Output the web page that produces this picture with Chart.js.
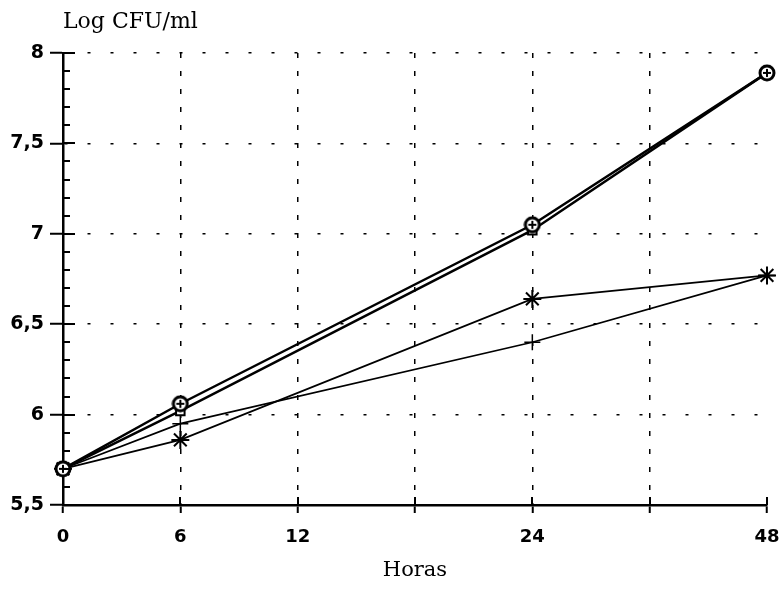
<!DOCTYPE html>
<html>
<head>
<meta charset="utf-8">
<script src="https://cdn.jsdelivr.net/npm/chart.js@4/dist/chart.umd.min.js"></script>
<style>
  html, body { margin: 0; padding: 0; background: #fff; }
  #wrap { width: 781px; height: 589px; position: relative; }
</style>
</head>
<body>
<div id="wrap"><canvas id="chart"></canvas></div>
<script>
// x positions of the original plot (evenly spaced slots, two of them unlabeled)
const hourLabels = ['0', '6', '12', '', '24', '', '48'];
const sampleHours = ['0', '6', '24', '48'];

// Log CFU/ml
const circleSeries = [5.70, 6.06, 7.05, 7.89];
const squareSeries = [5.70, 6.02, 7.02, 7.89];
const starSeries = [5.70, 5.86, 6.64, 6.77];
const plusSeries = [5.70, 5.95, 6.40, 6.77];

const yTickValues = [5.5, 6, 6.5, 7, 7.5, 8];

function toPoints(values) {
  return sampleHours.map((h, i) => ({ x: h, y: values[i] }));
}

function makeCircleCross() {
  const c = document.createElement('canvas');
  c.width = 18;
  c.height = 18;
  const g = c.getContext('2d');
  g.beginPath();
  g.arc(9, 9, 7, 0, Math.PI * 2);
  g.fillStyle = '#fff';
  g.fill();
  g.lineWidth = 3;
  g.strokeStyle = '#000';
  g.stroke();
  g.lineWidth = 2;
  g.beginPath();
  g.moveTo(5, 9); g.lineTo(13, 9);
  g.moveTo(9, 5); g.lineTo(9, 13);
  g.stroke();
  return c;
}

const axisTicks = {
  id: 'axisTicks',
  afterDraw(chart) {
    const { ctx, chartArea } = chart;
    const y = chart.scales.y;
    const x = chart.scales.x;
    ctx.save();
    ctx.strokeStyle = '#000';
    ctx.lineWidth = 2;
    ctx.beginPath();
    // minor ticks inside the y axis
    for (let v = 55; v <= 80; v++) {
      const py = Math.round(y.getPixelForValue(v / 10));
      const len = v % 5 === 0 ? 12 : 7;
      ctx.moveTo(chartArea.left, py);
      ctx.lineTo(chartArea.left + len, py);
    }
    // inner half of the x ticks
    for (let i = 1; i < hourLabels.length; i++) {
      const px = Math.round(x.getPixelForValue(i));
      ctx.moveTo(px, chartArea.bottom);
      ctx.lineTo(px, chartArea.bottom - 8);
    }
    ctx.stroke();

    // y axis caption
    ctx.fillStyle = '#000';
    ctx.font = '22px "DejaVu Serif"';
    ctx.textAlign = 'left';
    ctx.textBaseline = 'alphabetic';
    ctx.fillText('Log CFU/ml', chartArea.left, 28);
    ctx.restore();
  }
};

const lineStyle = {
  borderColor: '#000',
  backgroundColor: '#fff',
  pointBorderColor: '#000',
  fill: false,
  tension: 0,
  spanGaps: true,
};

new Chart(document.getElementById('chart'), {
  type: 'line',
  data: {
    labels: hourLabels,
    datasets: [
      { ...lineStyle, label: 'circle', data: toPoints(circleSeries), borderWidth: 2.5,
        pointStyle: makeCircleCross(), pointRadius: 8 },
      { ...lineStyle, label: 'square', data: toPoints(squareSeries), borderWidth: 2.5,
        pointStyle: 'rect', pointRadius: 6, pointBorderWidth: 2 },
      { ...lineStyle, label: 'star', data: toPoints(starSeries), borderWidth: 1.8,
        pointStyle: 'star', pointRadius: 9, pointBorderWidth: 2 },
      { ...lineStyle, label: 'plus', data: toPoints(plusSeries), borderWidth: 1.6,
        pointStyle: 'cross', pointRadius: 8, pointBorderWidth: 1.5 },
    ]
  },
  options: {
    responsive: true,
    maintainAspectRatio: false,
    animation: false,
    layout: { padding: { top: 53, right: 14, left: 0, bottom: 0 } },
    plugins: { legend: { display: false }, tooltip: { enabled: false } },
    scales: {
      x: {
        type: 'category',
        offset: false,
        grid: {
          color: (c) => (c.index === 0 || c.index === hourLabels.length - 1 ? 'rgba(0,0,0,0)' : '#000'),
          lineWidth: 1.5,
          tickColor: '#000',
          tickWidth: 2,
          tickLength: 8,
        },
        border: { display: true, color: '#000', width: 2.5, dash: [5, 13] },
        ticks: {
          color: '#000',
          font: { family: 'DejaVu Sans', weight: 'bold', size: 18 },
          padding: 14,
          maxRotation: 0,
          autoSkip: false,
        },
        title: {
          display: true,
          text: 'Horas',
          color: '#000',
          font: { family: 'DejaVu Serif', size: 21 },
          padding: { top: 0, bottom: 6 },
        },
        afterFit: (scale) => {
          scale.height = 84;
          scale.paddingLeft = 0;
          scale.paddingRight = 0;
        },
      },
      y: {
        min: 5.5,
        max: 8,
        afterBuildTicks: (scale) => { scale.ticks = yTickValues.map((v) => ({ value: v })); },
        grid: {
          color: (c) => (c.index === 0 ? 'rgba(0,0,0,0)' : '#000'),
          lineWidth: 1.5,
          tickColor: '#000',
          tickWidth: 2,
          tickLength: 13,
        },
        border: { display: true, color: '#000', width: 2.5, dash: [3, 20] },
        ticks: {
          color: '#000',
          font: { family: 'DejaVu Sans', weight: 'bold', size: 19 },
          padding: 6,
          callback: (v) => String(v).replace('.', ','),
        },
        afterFit: (scale) => {
          scale.width = 63;
          scale.paddingTop = 0;
          scale.paddingBottom = 0;
        },
      }
    }
  },
  plugins: [axisTicks]
});
</script>
</body>
</html>
